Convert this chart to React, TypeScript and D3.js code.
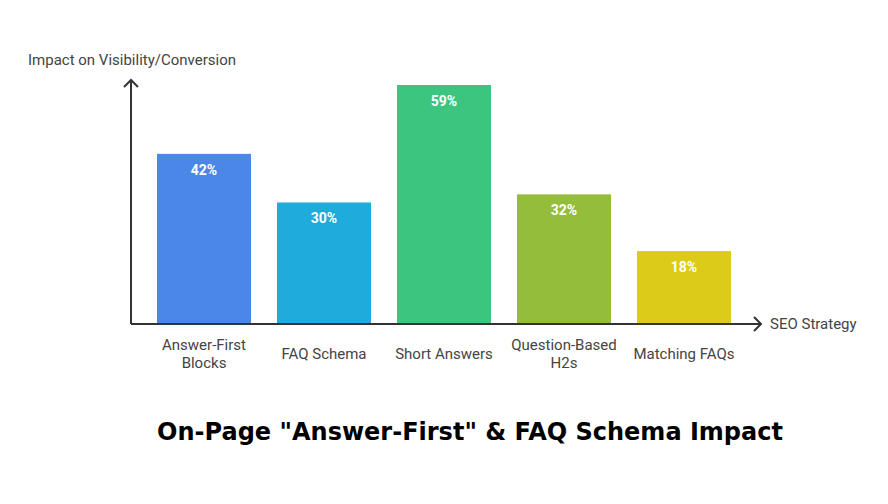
import React from "react";
import * as d3 from "d3";

const categories = [["Answer-First", "Blocks"], ["FAQ Schema"], ["Short Answers"], ["Question-Based", "H2s"], ["Matching FAQs"]];
const values = [42, 30, 59, 32, 18];
const colors = ["#4b87e6", "#1fabdb", "#3cc57f", "#93bd3a", "#dccb18"];

export default function App() {
  const W = 888, H = 504;
  const x0 = 131, y0 = 324;
  const x = d3.scaleBand<number>().domain(d3.range(values.length)).range([144, 744]).paddingInner(26 / 120).paddingOuter(13 / 120);
  const y = d3.scaleLinear().domain([0, 59]).range([y0, 85]);
  const font = "Roboto, 'Open Sans', sans-serif";
  return (
    <svg width={W} height={H} style={{ position: "absolute", left: 0, top: 0, background: "#fff" }}>
      {values.map((v, i) => (
        <g key={i}>
          <rect x={x(i)} y={y(v)} width={x.bandwidth()} height={y0 - y(v)} fill={colors[i]} />
          <text x={(x(i) as number) + x.bandwidth() / 2} y={y(v) + 21} textAnchor="middle" fill="#fff" fontFamily={font} fontWeight="bold" fontSize={14}>{v}%</text>
          {categories[i].map((line, j) => (
            <text key={j} x={(x(i) as number) + x.bandwidth() / 2} y={(categories[i].length === 1 ? 359 : 350) + j * 18} textAnchor="middle" fill="#444" fontFamily={font} fontSize={15}>{line}</text>
          ))}
        </g>
      ))}
      <line x1={x0} y1={y0} x2={761} y2={y0} stroke="#333" strokeWidth={2} />
      <path d={`M${754},${y0 - 7} L${761},${y0} L${754},${y0 + 7}`} fill="none" stroke="#333" strokeWidth={2} />
      <line x1={x0} y1={y0} x2={x0} y2={80} stroke="#333" strokeWidth={2} />
      <path d={`M${x0 - 7},${87} L${x0},${80} L${x0 + 7},${87}`} fill="none" stroke="#333" strokeWidth={2} />
      <text x={28} y={65} fill="#444" fontFamily={font} fontSize={15}>Impact on Visibility/Conversion</text>
      <text x={770} y={329} fill="#444" fontFamily={font} fontSize={15}>SEO Strategy</text>
      <text x={470} y={440} textAnchor="middle" fill="#000" fontFamily="'DejaVu Sans', sans-serif" fontWeight="bold" fontSize={24}>On-Page "Answer-First" &amp; FAQ Schema Impact</text>
    </svg>
  );
}
